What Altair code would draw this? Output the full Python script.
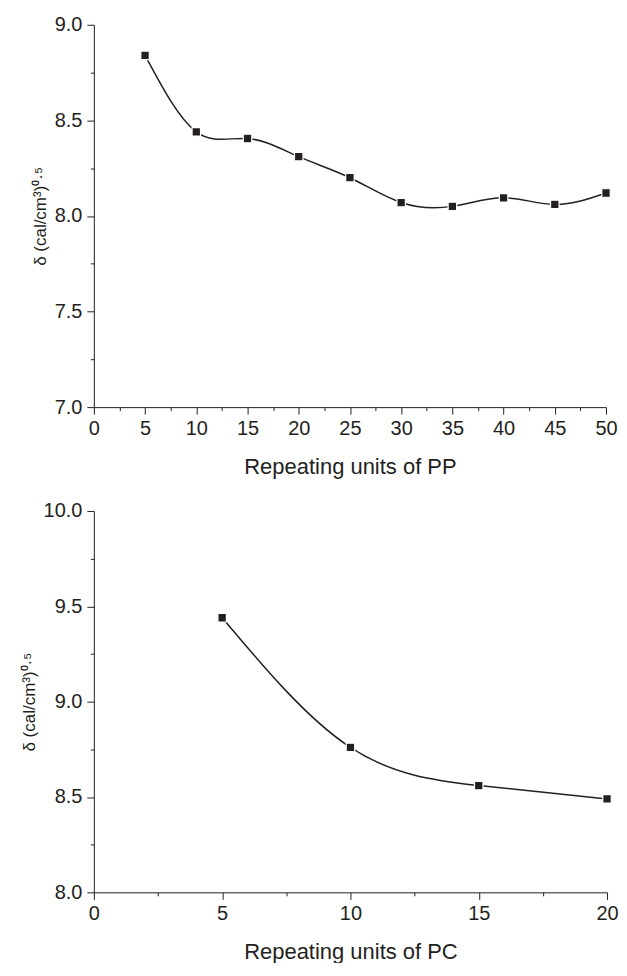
import altair as alt
import pandas as pd

pp_units = [5, 10, 15, 20, 25, 30, 35, 40, 45, 50]
pp_delta = [8.84, 8.44, 8.405, 8.31, 8.20, 8.07, 8.05, 8.095, 8.06, 8.12]

pc_units = [5, 10, 15, 20]
pc_delta = [9.44, 8.76, 8.56, 8.49]

pp_xticks = [i * 2.5 for i in range(21)]
pp_yticks = [7.0 + i * 0.25 for i in range(9)]
pc_xticks = [i * 2.5 for i in range(9)]
pc_yticks = [8.0 + i * 0.25 for i in range(9)]

ytitle = "δ (cal/cm³)⁰·⁵"
INK = "#231f20"
FONT = "Liberation Sans"


def panel(units, delta, xdom, ydom, xticks, yticks, xtitle, w, h, xtp):
    df = pd.DataFrame({"x": units, "y": delta})
    xax = alt.Axis(
        values=xticks,
        labelExpr="datum.value % 5 === 0 ? datum.label : ''",
        tickSize={"condition": {"test": "datum.value % 5 === 0", "value": 7}, "value": 3.5},
        format="d", grid=False, domainColor=INK, tickColor=INK,
        labelColor=INK, labelFontSize=20, labelFont=FONT, labelPadding=4,
        title=xtitle, titleFont=FONT, titleFontSize=22, titleFontWeight="normal",
        titleColor=INK, titlePadding=xtp, labelFlush=False,
    )
    yax = alt.Axis(
        values=yticks,
        labelExpr="round(datum.value * 4) % 2 === 0 ? format(datum.value, '.1f') : ''",
        tickSize={"condition": {"test": "round(datum.value * 4) % 2 === 0", "value": 7}, "value": 3.5},
        grid=False, domainColor=INK, tickColor=INK,
        labelColor=INK, labelFontSize=20, labelFont=FONT, labelPadding=5,
        title=ytitle, titleFont=FONT, titleFontSize=17, titleFontWeight="normal",
        titleColor=INK, titlePadding=5, labelFlush=False,
    )
    x = alt.X("x:Q", scale=alt.Scale(domain=xdom, nice=False, zero=False), axis=xax)
    y = alt.Y("y:Q", scale=alt.Scale(domain=ydom, nice=False, zero=False), axis=yax)
    base = alt.Chart(df).encode(x=x, y=y)
    line = base.mark_line(color=INK, strokeWidth=1.5, interpolate="natural")
    pts = base.mark_point(shape="square", filled=True, size=72, color=INK,
                          stroke="white", strokeWidth=1.2, opacity=1)
    return alt.layer(line, pts).properties(width=w, height=h)


top = panel(pp_units, pp_delta, [0, 50], [7.0, 9.0], pp_xticks, pp_yticks,
            "Repeating units of PP", 513, 383, 18)
bottom = panel(pc_units, pc_delta, [0, 20], [8.0, 10.0], pc_xticks, pc_yticks,
               "Repeating units of PC", 514, 382, 18)

chart = alt.vconcat(top, bottom, spacing=24).configure_view(stroke=None).properties(
    padding={"top": 6, "left": 12, "right": 0, "bottom": 0}, background="white"
)

chart.save("out.html", embed_options={"renderer": "svg", "actions": False})
